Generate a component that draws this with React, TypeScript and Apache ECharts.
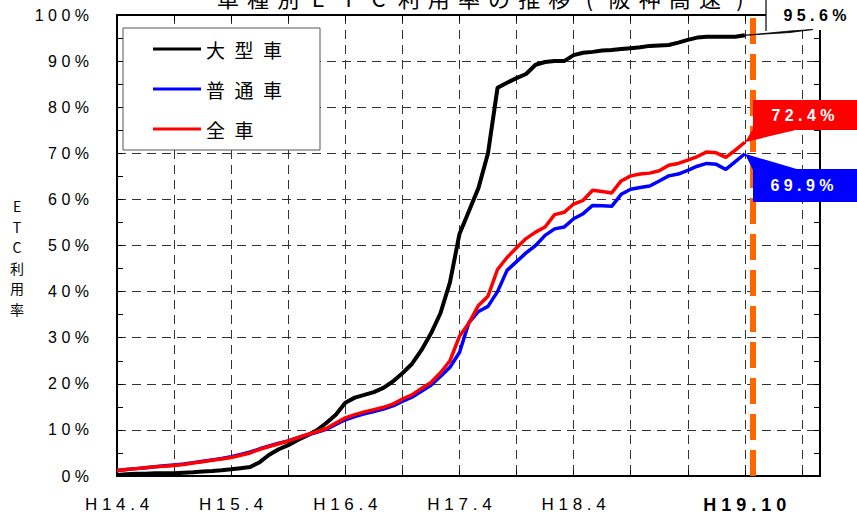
import React, { useEffect, useRef } from 'react';
import * as echarts from 'echarts';

// month index: 0 = H14.4 ... 66 = H19.10 (monthly)
const monthIndex: number[] = Array.from({ length: 67 }, (_, i) => i);

const largeVehicle = [
  0.2, 0.4, 0.5, 0.5, 0.6, 0.6, 0.6, 0.7, 0.8, 1.0,
  1.1, 1.25, 1.45, 1.7, 1.95, 3.0, 4.6, 5.8, 6.7, 7.8,
  8.8, 9.9, 11.5, 13.3, 15.9, 17.0, 17.6, 18.2, 19.1, 20.5,
  22.3, 24.3, 27.3, 30.9, 35.3, 42.0, 52.5, 57.5, 62.5, 70.0,
  84.2, 85.3, 86.3, 87.2, 89.2, 89.8, 90.0, 90.0, 91.3, 91.8,
  92.0, 92.3, 92.4, 92.6, 92.8, 93.0, 93.3, 93.4, 93.5, 94.0,
  94.6, 95.1, 95.3, 95.3, 95.3, 95.3, 95.6,
];

const ordinaryVehicle = [
  1.2, 1.4, 1.6, 1.8, 2.0, 2.2, 2.4, 2.6, 2.9, 3.2,
  3.5, 3.8, 4.2, 4.7, 5.2, 5.9, 6.5, 7.1, 7.6, 8.3,
  8.9, 9.5, 10.1, 11.2, 12.2, 12.9, 13.5, 14.0, 14.5, 15.2,
  16.2, 17.1, 18.4, 19.7, 21.6, 23.6, 26.8, 33.3, 35.7, 36.8,
  40.0, 44.6, 46.5, 48.4, 50.0, 52.2, 53.6, 54.0, 55.8, 56.9,
  58.7, 58.6, 58.5, 61.1, 62.2, 62.6, 62.9, 64.0, 65.1, 65.5,
  66.3, 67.2, 67.8, 67.6, 66.5, 68.2, 69.9,
];

const allVehicle = [
  1.2, 1.4, 1.6, 1.8, 2.0, 2.1, 2.3, 2.5, 2.8, 3.1,
  3.4, 3.7, 4.0, 4.5, 5.0, 5.8, 6.4, 7.0, 7.6, 8.3,
  9.0, 9.6, 10.3, 11.5, 12.6, 13.3, 13.9, 14.4, 14.9, 15.6,
  16.7, 17.6, 19.0, 20.3, 22.4, 25.0, 30.3, 33.2, 37.0, 39.0,
  44.8, 47.4, 49.5, 51.5, 52.9, 54.0, 56.7, 57.2, 59.0, 59.8,
  62.0, 61.7, 61.4, 64.0, 65.1, 65.5, 65.7, 66.2, 67.4, 67.8,
  68.5, 69.3, 70.3, 70.1, 69.1, 70.7, 72.4,
];

const seriesNames = ['大型車', '普通車', '全車'];
const seriesColors = ['#000000', '#0000FF', '#FF0000'];
const seriesWidths = [4, 3.5, 3.5];
const tickMonths = [0, 12, 24, 36, 48, 66];
const tickLabels = ['H14.4', 'H15.4', 'H16.4', 'H17.4', 'H18.4', 'H19.10'];
const currentMonth = 66;
const titleText = '車種別ETC利用率の推移(阪神高速)';
const yAxisName = 'ETC利用率';

const spaced = (s: string, sep = ' ') => s.split('').join(sep);
const JP = '"Noto Sans CJK JP", sans-serif';
const LAT = '"Liberation Sans", Arial, sans-serif';

export default function App() {
  const ref = useRef<HTMLDivElement>(null);

  useEffect(() => {
    if (!ref.current) return;
    const chart = echarts.init(ref.current, null, { renderer: 'svg' });
    const dataSets = [largeVehicle, ordinaryVehicle, allVehicle];

    const xCommon = {
      type: 'value' as const,
      min: 0,
      max: 73.9,
      interval: 6,
    };

    chart.setOption({
      animation: false,
      backgroundColor: '#fff',
      grid: { left: 117, top: 15, right: 37, bottom: 35, containLabel: false },
      legend: {
        left: 123,
        top: 28,
        orient: 'vertical',
        icon: 'rect',
        itemWidth: 48,
        itemHeight: 3,
        itemGap: 20,
        padding: [11, 38, 11, 30],
        backgroundColor: '#fff',
        borderColor: '#555',
        borderWidth: 1,
        borderRadius: 0,
        data: seriesNames,
        formatter: (n: string) => spaced(n, '\u2002'),
        textStyle: { fontFamily: JP, fontSize: 19, color: '#000', lineHeight: 20 },
      },
      xAxis: [
        {
          ...xCommon,
          position: 'bottom',
          axisLine: { show: true, onZero: false, lineStyle: { color: '#000', width: 2 } },
          axisTick: { show: true, inside: true, length: 6, lineStyle: { color: '#000' } },
          splitLine: { show: true, lineStyle: { color: '#333', width: 1, type: [9, 6] } },
          axisLabel: {
            margin: 20,
            fontFamily: LAT,
            fontSize: 17,
            color: '#000',
            showMaxLabel: false,
            formatter: (v: number) => {
              const k = tickMonths.indexOf(Math.round(v));
              if (k < 0 || Math.abs(v - Math.round(v)) > 0.01) return '';
              const t = spaced(tickLabels[k]);
              return Math.round(v) === currentMonth ? `{b|${t}}` : t;
            },
            rich: {
              b: { fontFamily: LAT, fontSize: 18, fontWeight: 'bold', color: '#000' },
            },
          },
        },
        {
          ...xCommon,
          position: 'top',
          axisLine: { show: true, onZero: false, lineStyle: { color: '#000', width: 2 } },
          axisTick: { show: true, inside: true, length: 6, lineStyle: { color: '#000' } },
          axisLabel: { show: false },
          splitLine: { show: false },
        },
      ],
      yAxis: [
        {
          type: 'value',
          min: 0,
          max: 100,
          interval: 10,
          position: 'left',
          axisLine: { show: true, onZero: false, lineStyle: { color: '#000', width: 2 } },
          axisTick: { show: true, inside: true, length: 6, lineStyle: { color: '#000' } },
          minorTick: { show: true, splitNumber: 2, length: 6, lineStyle: { color: '#000' } },
          splitLine: { show: true, lineStyle: { color: '#333', width: 1, type: [9, 6] } },
          axisLabel: {
            margin: 28,
            fontFamily: LAT,
            fontSize: 16,
            color: '#000',
            formatter: (v: number) => spaced(`${v}%`),
          },
        },
        {
          type: 'value',
          min: 0,
          max: 100,
          interval: 10,
          position: 'right',
          axisLine: { show: true, onZero: false, lineStyle: { color: '#000', width: 2 } },
          axisTick: { show: true, inside: true, length: 6, lineStyle: { color: '#000' } },
          minorTick: { show: true, splitNumber: 2, length: 6, lineStyle: { color: '#000' } },
          splitLine: { show: false },
          axisLabel: { show: false },
        },
      ],
      series: seriesNames.map((name, s) => ({
        name,
        type: 'line',
        xAxisIndex: 0,
        yAxisIndex: 0,
        showSymbol: false,
        symbol: 'none',
        color: seriesColors[s],
        lineStyle: { color: seriesColors[s], width: seriesWidths[s] },
        data: monthIndex.map((m, i) => [m, dataSets[s][i]]),
        z: 3 + s,
        markLine:
          s === 2
            ? {
                silent: true,
                symbol: 'none',
                label: { show: false },
                lineStyle: { color: '#FF6600', width: 6, type: [26, 10] },
                data: [{ xAxis: currentMonth + 0.8 }],
                z: 10,
              }
            : undefined,
      })),
    });

    const last = monthIndex.length - 1;
    const px = (s: number) =>
      chart.convertToPixel({ seriesIndex: s }, [monthIndex[last], dataSets[s][last]]) as number[];
    const pL = px(0);
    const pO = px(1);
    const pA = px(2);
    const fmt = (v: number) => spaced(`${v.toFixed(1)}%`);

    const titleChars = titleText.split('');
    const tStart = 228;
    const tStep = (740 - tStart) / (titleChars.length - 1);

    chart.setOption({
      graphic: [
        ...titleChars.map((c, k) => ({
          type: 'text',
          x: tStart + k * tStep,
          y: -3,
          z: 50,
          style: {
            text: c,
            fill: '#000',
            font: `22px ${JP}`,
            align: 'center',
            verticalAlign: 'middle',
            textAlign: 'center',
            textVerticalAlign: 'middle',
          },
        })),
        {
          type: 'text',
          x: 17,
          y: 196,
          z: 50,
          style: {
            text: yAxisName.split('').join('\n'),
            fill: '#000',
            font: `14px ${JP}`,
            lineHeight: 20.5,
            align: 'center',
            textAlign: 'center',
            verticalAlign: 'top',
            textVerticalAlign: 'top',
          },
        },
        // 95.6% callout
        {
          type: 'rect',
          z: 61,
          shape: { x: 766, y: -5, width: 100, height: 35 },
          style: { fill: '#fff' },
        },
        {
          type: 'polyline',
          z: 62,
          shape: { points: [[766, -5], [766, 31]] },
          style: { stroke: '#000', lineWidth: 1.2, fill: null },
        },
        {
          type: 'polygon',
          z: 62,
          shape: { points: [[pL[0], pL[1]], [790, 31], [813, 29.5], [790, 32.5]] },
          style: { fill: '#000', stroke: '#000', lineWidth: 0.8 },
        },
        {
          type: 'text',
          z: 63,
          x: 815,
          y: 15,
          style: {
            text: fmt(largeVehicle[last]),
            fill: '#000',
            font: `bold 16px ${LAT}`,
            align: 'center',
            verticalAlign: 'middle',
            textAlign: 'center',
            textVerticalAlign: 'middle',
          },
        },
        // 72.4% callout
        {
          type: 'polygon',
          z: 60,
          shape: { points: [[pA[0], pA[1]], [753, 129], [800, 129]] },
          style: { fill: '#FF0000' },
        },
        {
          type: 'rect',
          z: 61,
          shape: { x: 753, y: 100, width: 110, height: 30 },
          style: { fill: '#FF0000' },
        },
        {
          type: 'text',
          z: 62,
          x: 803,
          y: 115,
          style: {
            text: fmt(allVehicle[last]),
            fill: '#fff',
            font: `bold 16px ${LAT}`,
            align: 'center',
            verticalAlign: 'middle',
            textAlign: 'center',
            textVerticalAlign: 'middle',
          },
        },
        // 69.9% callout
        {
          type: 'polygon',
          z: 60,
          shape: { points: [[pO[0], pO[1]], [800, 170], [753, 170]] },
          style: { fill: '#0000FF' },
        },
        {
          type: 'rect',
          z: 61,
          shape: { x: 753, y: 169, width: 110, height: 33 },
          style: { fill: '#0000FF' },
        },
        {
          type: 'text',
          z: 62,
          x: 802,
          y: 185,
          style: {
            text: fmt(ordinaryVehicle[last]),
            fill: '#fff',
            font: `bold 16px ${LAT}`,
            align: 'center',
            verticalAlign: 'middle',
            textAlign: 'center',
            textVerticalAlign: 'middle',
          },
        },
      ],
    });

    return () => chart.dispose();
  }, []);

  return (
    <div
      ref={ref}
      style={{ position: 'fixed', left: 0, top: 0, width: 857, height: 514, background: '#fff' }}
    />
  );
}
